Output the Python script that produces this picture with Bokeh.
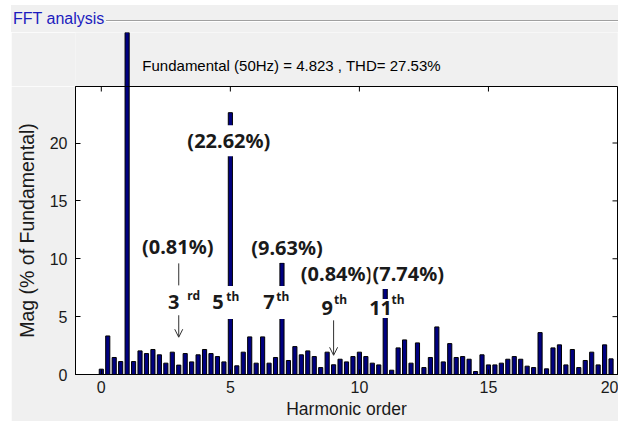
import numpy as np
from bokeh.plotting import figure
from bokeh.models import Range1d, FixedTicker, Label, Arrow, OpenHead, Div
from bokeh.layouts import column
from bokeh.embed import file_html
from bokeh.resources import INLINE

# ---------------- data ----------------
harmonic_order = np.arange(0, 20, 0.25)          # frequency bins, in harmonic units
magnitude = [
    0.46, 3.33, 1.47, 1.12, 100.0, 1.12, 2.04, 1.81, 2.16, 1.70,
    0.98, 1.93, 0.81, 1.81, 1.09, 1.70, 2.16, 1.81, 1.55, 1.09,
    22.62, 0.75, 1.93, 3.25, 0.98, 3.25, 0.98, 1.47, 9.63, 1.21,
    2.41, 1.70, 2.04, 1.55, 0.60, 1.93, 0.84, 1.32, 1.09, 1.55,
    1.93, 1.55, 0.98, 0.83, 7.74, 0.37, 2.30, 2.99, 0.98, 2.73,
    0.60, 1.47, 4.11, 1.09, 2.67, 1.47, 1.55, 1.32, 0.26, 1.70,
    0.83, 0.83, 0.98, 1.32, 1.55, 1.32, 0.72, 0.60, 3.62, 0.49,
    2.30, 2.56, 0.83, 2.16, 0.60, 1.21, 1.93, 0.83, 2.56, 1.35,
]
tick_values = [0, 5, 10, 15, 20]
panel_title = "FFT analysis"
summary_text = "Fundamental (50Hz) = 4.823 , THD= 27.53%"
x_label = "Harmonic order"
y_label = "Mag (% of Fundamental)"

marked_orders = [3, 5, 7, 9, 11]
marked_pct = ["(0.81%)", "(22.62%)", "(9.63%)", "(0.84%)", "(7.74%)"]
marked_num = ["3", "5", "7", "9", "11"]
marked_suffix = ["rd", "th", "th", "th", "th"]

# annotation placement (data y, screen x-offset)
pct_y = [11.06, 20.2, 11.0, 8.73, 8.73]
pct_dx = [-1, -1.5, 5, 3, 23]
num_y = [6.2, 6.2, 6.2, 5.7, 5.7]
num_dx = [-5, -12.5, -13, -6.5, -4.6]
suf_y = [6.28, 6.23, 6.23, 5.98, 5.98]
suf_dx = [7.6, -5, -6.8, -0.6, 5.4]
connector_orders = [3, 9]
connector_y = [(9.6, 7.7), (7.85, 7.0)]
arrow_orders = [3, 9]
arrow_y = [(5.12, 3.22), (4.68, 1.66)]
summary_pos = (1.59, 26.69)

FONT = "Liberation Sans"
BOLD = "Noto Sans"
TXT = "#1a1a1a"
GRAY = "#f0f0f0"

box_top = 1.1 * sorted(magnitude)[-2]     # upper y-limit of the axes box
x_rng = Range1d(-1, 20)

# ---------------- header (group-box title) ----------------
html = f'''<div style="position:relative;width:607px;height:27px;background:{GRAY};overflow:hidden;">
<div style="position:absolute;left:2px;right:0;top:15px;height:0;border-top:1px solid #a0a0a0;border-bottom:1px solid #ffffff;"></div>
<span style="position:absolute;left:2px;top:4px;padding-right:2px;background:{GRAY};color:#1c1cbe;font-family:'{FONT}';font-size:16px;line-height:20px;white-space:nowrap;">{panel_title}</span>
</div>'''
div = Div(text=html, width=607, height=27, margin=(5, 0, 0, 11))

# ---------------- strip above the axes (fundamental bar overshoot + summary) ----------------
top_h = 54
main_h = 335
main_bottom = 47
px_per_unit = (main_h - main_bottom) / box_top

pt = figure(width=607, height=top_h, x_range=x_rng,
            y_range=Range1d(box_top, box_top + top_h / px_per_unit),
            output_backend="svg", toolbar_location=None,
            x_axis_location=None, y_axis_location=None,
            min_border_left=64, min_border_right=1, min_border_top=0, min_border_bottom=0,
            background_fill_color=GRAY, border_fill_color=GRAY,
            outline_line_color=None, margin=(0, 0, 0, 11))
pt.xgrid.visible = False
pt.ygrid.visible = False
pt.vbar(x=harmonic_order, top=magnitude, bottom=0, width=0.16,
        fill_color="#000080", line_color="black", line_width=1)
pt.add_layout(Label(x=summary_pos[0], y=summary_pos[1], text=summary_text, text_align="left",
                    text_baseline="middle", text_font=FONT, text_font_size="15px",
                    text_color="black"))

# ---------------- main axes ----------------
p = figure(width=607, height=main_h, x_range=x_rng, y_range=Range1d(0, box_top),
           output_backend="svg", toolbar_location=None,
           min_border_left=64, min_border_right=1, min_border_top=0, min_border_bottom=main_bottom,
           background_fill_color="white", border_fill_color=GRAY,
           outline_line_color="black", outline_line_width=1, margin=(0, 0, 0, 11))
p.xgrid.visible = False
p.ygrid.visible = False

xa = p.xaxis[0]
xa.ticker = FixedTicker(ticks=tick_values)
xa.major_tick_in = 5
xa.major_tick_out = 0
xa.minor_tick_line_color = None
xa.axis_line_color = "black"
xa.major_tick_line_color = "black"
xa.major_label_text_font = FONT
xa.major_label_text_font_size = "16px"
xa.major_label_text_color = TXT
xa.major_label_standoff = 6
xa.axis_label = x_label
xa.axis_label_text_font = FONT
xa.axis_label_text_font_size = "17.5px"
xa.axis_label_text_font_style = "normal"
xa.axis_label_text_color = TXT
xa.axis_label_standoff = 3

ya = p.yaxis[0]
ya.ticker = FixedTicker(ticks=tick_values)
ya.major_tick_in = 5
ya.major_tick_out = 0
ya.minor_tick_line_color = None
ya.axis_line_color = "black"
ya.major_tick_line_color = "black"
ya.major_label_text_font = FONT
ya.major_label_text_font_size = "16px"
ya.major_label_text_color = TXT
ya.major_label_standoff = 8
ya.axis_label = y_label
ya.axis_label_text_font = FONT
ya.axis_label_text_font_size = "19.5px"
ya.axis_label_text_font_style = "normal"
ya.axis_label_text_color = TXT
ya.axis_label_standoff = 9

# mirrored ticks on the top and right edges of the box
p.ray(x=tick_values, y=[box_top] * len(tick_values), length=5, length_units="screen",
      angle=-np.pi / 2, line_color="black", line_width=1)
p.ray(x=[tick_values[-1]] * len(tick_values), y=tick_values, length=5, length_units="screen",
      angle=np.pi, line_color="black", line_width=1)

p.vbar(x=harmonic_order, top=magnitude, bottom=0, width=0.16,
       fill_color="#000080", line_color="black", line_width=1)

for h, (y0, y1) in zip(connector_orders, connector_y):
    p.add_layout(Arrow(x_start=h, y_start=y0, x_end=h, y_end=y1, end=None,
                       line_color="#303030", line_width=1))

for h, t, y, dx in zip(marked_orders, marked_pct, pct_y, pct_dx):
    p.add_layout(Label(x=h, y=y, x_offset=dx, text=t, text_align="center", text_baseline="middle",
                       text_font=BOLD, text_font_style="bold", text_font_size="20px",
                       text_color=TXT, background_fill_color="white", padding=2))

for h, t, y, dx in zip(marked_orders, marked_num, num_y, num_dx):
    p.add_layout(Label(x=h, y=y, x_offset=dx, text=t, text_align="center", text_baseline="middle",
                       text_font=BOLD, text_font_style="bold", text_font_size="20px",
                       text_color=TXT, background_fill_color="white",
                       padding=dict(left=2, right=2, top=2, bottom=3)))

for h, t, y, dx in zip(marked_orders, marked_suffix, suf_y, suf_dx):
    p.add_layout(Label(x=h, y=y, x_offset=dx, text=t, text_align="left", text_baseline="middle",
                       text_font=BOLD, text_font_style="bold", text_font_size="12px",
                       text_color=TXT, background_fill_color="white",
                       padding=dict(left=1, right=1, top=2, bottom=14)))

for h, (y0, y1) in zip(arrow_orders, arrow_y):
    p.add_layout(Arrow(x_start=h, y_start=y0, x_end=h, y_end=y1,
                       end=OpenHead(size=8, line_width=1, line_color="#303030"),
                       line_color="#303030", line_width=1))

layout = column(div, pt, p, spacing=0)
open("out.html", "w").write(file_html(layout, INLINE))
